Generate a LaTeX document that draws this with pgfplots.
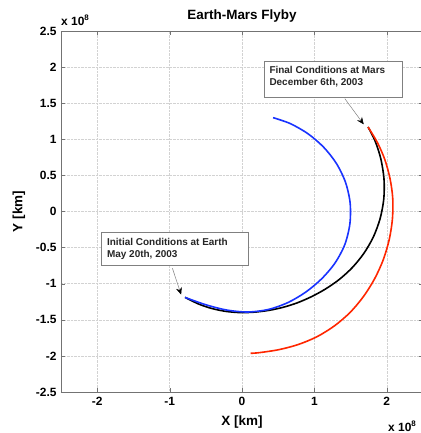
\documentclass[border=0pt]{standalone}
\usepackage{fontspec}
\setmainfont{Liberation Sans}
\usepackage{pgfplots}
\pgfplotsset{compat=1.18}
\usetikzlibrary{arrows.meta}
\definecolor{orbred}{rgb}{1,0.15,0}
\definecolor{orbblue}{rgb}{0.1,0.2,1}
\definecolor{framegray}{gray}{0.45}

\begin{document}
\begin{tikzpicture}[x=1bp,y=1bp]
\begin{axis}[
  at={(0,0)}, anchor=south west,
  scale only axis, width=362bp, height=361bp,
  xmin=-2.5, xmax=2.5, ymin=-2.5, ymax=2.5,
  clip mode=individual,
  xtick={-2,-1,0,1,2}, xticklabels={-2,-1,0,1,2},
  ytick={-2.5,-2,-1.5,-1,-0.5,0,0.5,1,1.5,2,2.5},
  yticklabels={-2.5,-2,-1.5,-1,-0.5,0,0.5,1,1.5,2,2.5},
  tick align=inside, xtick pos=both, ytick pos=both,
  xticklabel pos=lower, yticklabel pos=left,
  major tick length=4bp,
  grid=major, grid style={densely dotted, gray!35},
  axis line style={framegray},
  tick style={framegray},
  ticklabel style={font=\fontsize{12}{12}\selectfont\bfseries},
  xticklabel style={yshift=-2bp},
  yticklabel style={xshift=-1bp},
  xlabel={X [km]}, ylabel={Y [km]},
  label style={font=\fontsize{13.5}{14}\selectfont\bfseries},
  xlabel style={at={([yshift=-30bp]axis description cs:0.5,0)}, anchor=center},
  ylabel style={at={([xshift=-42bp]axis description cs:0,0.5)}, anchor=center},
  title={Earth-Mars Flyby},
  title style={at={(axis description cs:0.5,1)}, anchor=center, yshift=9bp,
    font=\fontsize{13.5}{14}\selectfont\bfseries},
]
% transfer orbit
\addplot[black, line width=1.6bp, smooth] coordinates {
  (-0.787,-1.189) (-0.598,-1.282) (-0.411,-1.345) (-0.219,-1.384)
  (-0.024,-1.400) (0.171,-1.394) (0.367,-1.370) (0.564,-1.328)
  (0.761,-1.266) (0.957,-1.181) (1.152,-1.074) (1.344,-0.941)
  (1.524,-0.776) (1.683,-0.580) (1.814,-0.353) (1.907,-0.100)
  (1.958,0.171) (1.961,0.453) (1.916,0.735) (1.838,0.977) (1.741,1.170)
};
% Earth orbit
\addplot[orbblue, line width=1.6bp, smooth] coordinates {
  (-0.787,-1.190) (-0.502,-1.291) (-0.215,-1.364) (0.076,-1.392)
  (0.364,-1.357) (0.635,-1.261) (0.881,-1.116) (1.100,-0.932)
  (1.286,-0.712) (1.421,-0.455) (1.490,-0.171) (1.493,0.122)
  (1.429,0.406) (1.303,0.667) (1.126,0.892) (0.911,1.077)
  (0.668,1.217) (0.429,1.300)
};
% Mars orbit
\addplot[orbred, line width=1.6bp, smooth] coordinates {
  (1.741,1.170) (1.871,0.953) (1.973,0.718) (2.045,0.453) (2.082,0.182)
  (2.077,-0.109) (2.032,-0.395) (1.950,-0.671) (1.831,-0.933)
  (1.679,-1.176) (1.496,-1.395) (1.281,-1.581) (1.040,-1.732)
  (0.781,-1.841) (0.512,-1.913) (0.240,-1.955) (0.120,-1.964)
};
% annotations
\draw[gray, fill=white, line width=0.6bp] (axis cs:0.308,2.080) rectangle (axis cs:2.211,1.585);
\node[anchor=west, align=left, inner sep=0pt,
  font=\fontsize{10}{11.6}\selectfont\bfseries, text=black!85]
  at (axis cs:0.377,1.865) {Final Conditions at Mars\\December 6th, 2003};
\draw[gray, line width=0.5bp, -{Stealth[length=7bp,width=6bp,black]}]
  (axis cs:1.42,1.563) -- (axis cs:1.681,1.207);
\draw[gray, fill=white, line width=0.6bp] (axis cs:-1.945,-0.295) rectangle (axis cs:0.087,-0.749);
\node[anchor=west, align=left, inner sep=0pt,
  font=\fontsize{10}{11.6}\selectfont\bfseries, text=black!85]
  at (axis cs:-1.866,-0.515) {Initial Conditions at Earth\\May 20th, 2003};
\draw[gray, line width=0.5bp, -{Stealth[length=7bp,width=6bp,black]}]
  (axis cs:-0.961,-0.786) -- (axis cs:-0.841,-1.151);
% exponent labels
\node[anchor=base west, inner sep=0pt, font=\fontsize{12}{12}\selectfont\bfseries]
  at ([yshift=5bp]rel axis cs:0,1) {x 10\raisebox{5bp}{\fontsize{8}{8}\selectfont 8}};
\node[anchor=base west, inner sep=0pt, font=\fontsize{12}{12}\selectfont\bfseries]
  at ([xshift=327bp,yshift=-39bp]rel axis cs:0,0) {x 10\raisebox{5bp}{\fontsize{8}{8}\selectfont 8}};
\end{axis}
\pgfresetboundingbox
\useasboundingbox (-61,-41) rectangle (359,392);
\end{tikzpicture}
\end{document}
